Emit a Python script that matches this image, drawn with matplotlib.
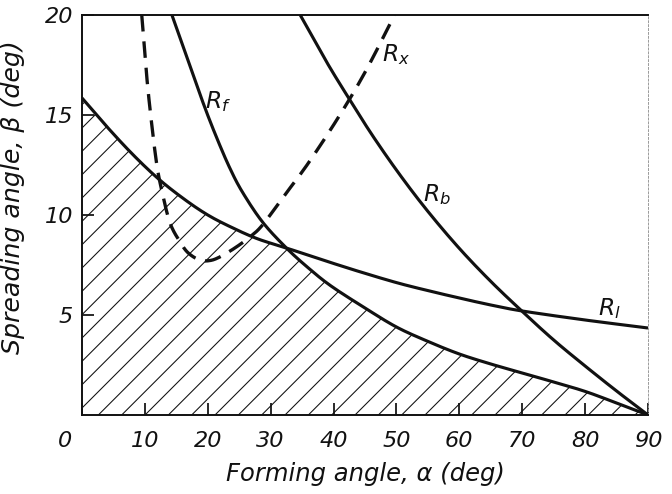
"""Forming angle vs spreading angle limit curves (R_f, R_b, R_l, R_x)."""
import matplotlib

matplotlib.use("Agg")
import matplotlib.pyplot as plt
import numpy as np
from matplotlib.transforms import ScaledTranslation

plt.rcParams["font.family"] = ["DejaVu Sans"]
plt.rcParams["mathtext.fontset"] = "dejavusans"
plt.rcParams["hatch.linewidth"] = 0.55

# curves: alpha (deg) -> beta (deg)
alpha_l = [0, 4, 8, 12, 16, 20, 24, 28, 32.5, 38, 44, 50, 55, 60, 65, 70, 80, 90]
beta_l = [15.85, 14.4, 13.05, 11.85, 10.85, 10.0, 9.35, 8.8, 8.35, 7.78, 7.18, 6.62, 6.22, 5.85, 5.5, 5.2, 4.75, 4.35]

alpha_f = [14.3, 17, 19.5, 21.5, 23.5, 25.5, 28.7, 32.5, 36, 39.6, 45, 50, 55, 60, 65, 70, 75, 80, 85, 90]
beta_f = [20, 17.6, 15.4, 13.8, 12.35, 11.15, 9.65, 8.35, 7.35, 6.45, 5.35, 4.4, 3.68, 3.05, 2.55, 2.1, 1.65, 1.18, 0.6, 0]

alpha_b = [34.7, 38.9, 42.5, 46.2, 50.5, 55, 60, 65, 70, 75, 80, 85, 90]
beta_b = [20, 17.65, 15.8, 13.97, 12.03, 10.18, 8.33, 6.68, 5.18, 3.75, 2.45, 1.2, 0]

alpha_x = [9.5, 10.3, 11.1, 11.9, 12.7, 14.0, 15.6, 16.9, 18.7, 20.3, 21.9, 24.3, 26.7, 28.7, 32, 36, 41, 45.2, 49.7]
beta_x = [20, 16.9, 14.5, 12.5, 11.2, 9.6, 8.65, 8.1, 7.75, 7.72, 7.9, 8.35, 8.9, 9.5, 10.9, 12.6, 15.0, 17.25, 20]

x_ticks = [0, 10, 20, 30, 40, 50, 60, 70, 80, 90]
y_ticks = [5, 10, 15, 20]

INK = "#111111"


def smooth(x, y, n=16):
    """Catmull-Rom path through the read points, for drawing only."""
    pts = np.column_stack([x, y]).astype(float)
    p = np.vstack([2 * pts[0] - pts[1], pts, 2 * pts[-1] - pts[-2]])
    t = np.linspace(0, 1, n, endpoint=False)[:, None]
    out = []
    for i in range(1, len(p) - 2):
        p0, p1, p2, p3 = p[i - 1], p[i], p[i + 1], p[i + 2]
        out.append(0.5 * (2 * p1 + (p2 - p0) * t + (2 * p0 - 5 * p1 + 4 * p2 - p3) * t**2
                          + (-p0 + 3 * p1 - 3 * p2 + p3) * t**3))
    out.append(pts[-1:])
    seg = np.vstack(out)
    return seg[:, 0], seg[:, 1]


def main() -> None:
    fig = plt.figure(figsize=(672 / 140, 494 / 140), dpi=140, facecolor="white")
    ax = fig.add_axes([82 / 672, 79 / 494, 566 / 672, 400 / 494])
    ax.set_xlim(0, 90)
    ax.set_ylim(0, 20)

    lx, ly = smooth(alpha_l, beta_l)
    fx, fy = smooth(alpha_f, beta_f)
    bx_, by_ = smooth(alpha_b, beta_b)
    xx, xy = smooth(alpha_x, beta_x)

    # hatched feasible zone: below R_l up to the crossing, then below R_f
    bx = np.concatenate([lx[lx <= 32.5], fx[fx > 32.5]])
    by = np.concatenate([ly[lx <= 32.5], fy[fx > 32.5]])
    ax.fill_between(bx, 0, by, facecolor="none", edgecolor=INK, hatch="//", linewidth=0)

    for a, b in [(lx, ly), (fx, fy), (bx_, by_)]:
        ax.plot(a, b, color=INK, lw=1.6, solid_capstyle="butt")
    ax.plot(xx, xy, color=INK, lw=1.7, ls=(0, (5, 3)))

    lab_kw = dict(fontsize=12, color=INK, ha="center", va="center")
    ax.text(21.6, 15.65, r"$R_f$", **lab_kw)
    ax.text(49.9, 18.0, r"$R_x$", **lab_kw)
    ax.text(56.5, 11.0, r"$R_b$", **lab_kw)
    ax.text(83.8, 5.3, r"$R_l$", **lab_kw)

    # frame: solid left/bottom/top, faint right edge
    for side in ("left", "bottom", "top"):
        ax.spines[side].set_linewidth(1.0)
        ax.spines[side].set_color(INK)
    ax.spines["right"].set_linewidth(0.5)
    ax.spines["right"].set_color("#9a9a9a")
    ax.spines["right"].set_linestyle((0, (2, 2)))

    ax.set_xticks(x_ticks)
    ax.set_yticks(y_ticks)
    ax.tick_params(direction="in", length=6, width=0.9, colors=INK, labelsize=11.5)
    ax.tick_params(axis="x", pad=8)
    ax.tick_params(axis="y", pad=4.5)
    for lab in ax.get_xticklabels() + ax.get_yticklabels():
        lab.set_fontstyle("italic")
    zero = ax.get_xticklabels()[0]
    zero.set_transform(zero.get_transform() + ScaledTranslation(-17 / 140, 0, fig.dpi_scale_trans))

    ax.set_xlabel("Forming angle, α (deg)", fontsize=12.5, style="italic", color=INK, labelpad=6)
    ax.set_ylabel("Spreading angle, β (deg)", fontsize=13, style="italic", color=INK)
    ax.yaxis.set_label_coords(-0.1, 0.545)

    fig.savefig("out.png", dpi=140, facecolor="white")
    plt.close(fig)


if __name__ == "__main__":
    main()
